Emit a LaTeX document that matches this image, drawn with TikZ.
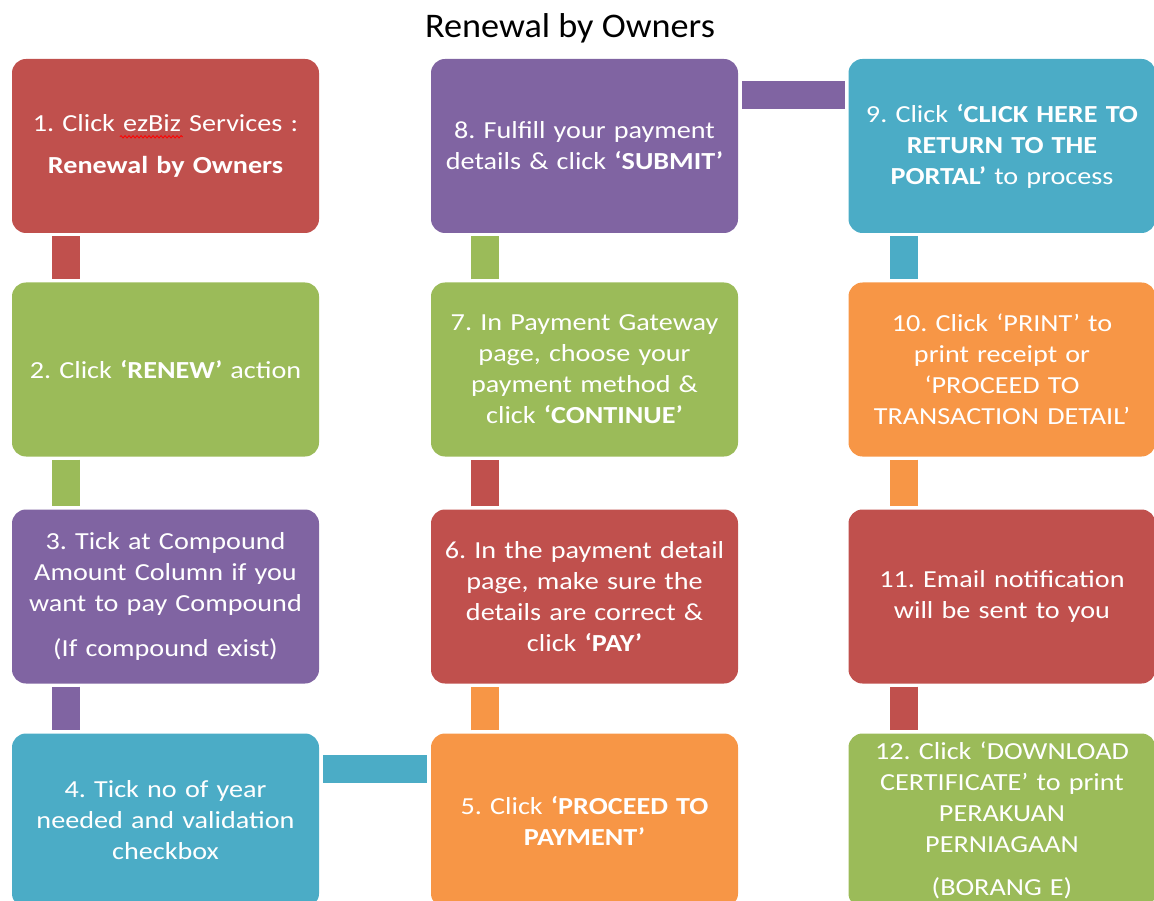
\documentclass[tikz,border=0pt]{standalone}
\usepackage{fontspec}
\setmainfont[FakeStretch=1.15]{Carlito}
\newfontfamily\titlefont[FakeStretch=1.05]{Carlito}
\usetikzlibrary{calc,decorations.pathmorphing}
\definecolor{cred}{HTML}{C0504D}
\definecolor{cgreen}{HTML}{9BBB59}
\definecolor{cpurple}{HTML}{8064A2}
\definecolor{cblue}{HTML}{4BACC6}
\definecolor{corange}{HTML}{F79646}
\frenchspacing
\begin{document}
\begin{tikzpicture}[x=1pt,y=-1pt,
  box/.style={rounded corners=14pt, minimum width=307pt, minimum height=174pt,
    align=center, text=white, inner sep=0pt, text width=300pt,
    font=\fontsize{24.5}{31}\selectfont},
  conn/.style={line width=28pt},
  squiggle/.style={draw=red, line width=0.8pt, decorate,
    decoration={snake, amplitude=1.2pt, segment length=4pt}}]
\useasboundingbox (0,0) rectangle (1154,901);
\clip (0,0) rectangle (1154,901);

\node[font=\titlefont\fontsize{34.5}{40}\selectfont] (title) at (570,28) {Renewal by Owners};

% column 1
\node[box, fill=cred] (b1) at (165.5,146) {1. Click ezBiz Services :\\[11pt]\textbf{Renewal by Owners}};
\node[box, fill=cgreen] (b2) at (165.5,369.5) {2. Click \textbf{‘RENEW’} action};
\node[box, fill=cpurple] (b3) at (165.5,596.5) {3. Tick at Compound\\Amount Column if you\\want to pay Compound\\[14pt](If compound exist)};
\node[box, fill=cblue] (b4) at (165.5,820.5) {4. Tick no of year\\needed and validation\\checkbox};

% column 2
\node[box, fill=cpurple] (b8) at (584.5,146) {8. Fulfill your payment\\details \& click \textbf{‘SUBMIT’}};
\node[box, fill=cgreen] (b7) at (584.5,369.5) {7. In Payment Gateway\\page, choose your\\payment method \&\\click \textbf{‘CONTINUE’}};
\node[box, fill=cred] (b6) at (584.5,596.5) {6. In the payment detail\\page, make sure the\\details are correct \&\\click \textbf{‘PAY’}};
\node[box, fill=corange] (b5) at (584.5,820.5) {5. Click \textbf{‘PROCEED TO}\\\textbf{PAYMENT’}};

% column 3
\node[box, fill=cblue] (b9) at (1002,146) {9. Click \textbf{‘CLICK HERE TO}\\\textbf{RETURN TO THE}\\\textbf{PORTAL’} to process};
\node[box, fill=corange] (b10) at (1002,369.5) {10. Click ‘PRINT’ to\\print receipt or\\‘PROCEED TO\\TRANSACTION DETAIL’};
\node[box, fill=cred] (b11) at (1002,596.5) {11. Email notification\\will be sent to you};
\node[box, fill=cgreen] (b12) at (1002,820.5) {12. Click ‘DOWNLOAD\\CERTIFICATE’ to print\\PERAKUAN\\PERNIAGAAN\\[12pt](BORANG E)};

% spell-check squiggle under ezBiz
\draw[squiggle] ($(b1.north west)+(108,78)$) -- ($(b1.north west)+(171,78)$);

% connectors column 1
\draw[conn, cred] ($(b1.south west)+(54,3)$) -- ($(b2.north west)+(54,-3)$);
\draw[conn, cgreen] ($(b2.south west)+(54,3)$) -- ($(b3.north west)+(54,-3)$);
\draw[conn, cpurple] ($(b3.south west)+(54,3)$) -- ($(b4.north west)+(54,-3)$);
% 4 -> 5
\draw[conn, cblue] ($(b4.north east)+(4,36)$) -- ($(b5.north west)+(-4,36)$);
% connectors column 2
\draw[conn, corange] ($(b5.north west)+(54,-3)$) -- ($(b6.south west)+(54,3)$);
\draw[conn, cred] ($(b6.north west)+(54,-3)$) -- ($(b7.south west)+(54,3)$);
\draw[conn, cgreen] ($(b7.north west)+(54,-3)$) -- ($(b8.south west)+(54,3)$);
% 8 -> 9
\draw[conn, cpurple] ($(b8.north east)+(4,36)$) -- ($(b9.north west)+(-3,36)$);
% connectors column 3
\draw[conn, cblue] ($(b9.south west)+(56,3)$) -- ($(b10.north west)+(56,-3)$);
\draw[conn, corange] ($(b10.south west)+(56,3)$) -- ($(b11.north west)+(56,-3)$);
\draw[conn, cred] ($(b11.south west)+(56,3)$) -- ($(b12.north west)+(56,-3)$);
\end{tikzpicture}
\end{document}
